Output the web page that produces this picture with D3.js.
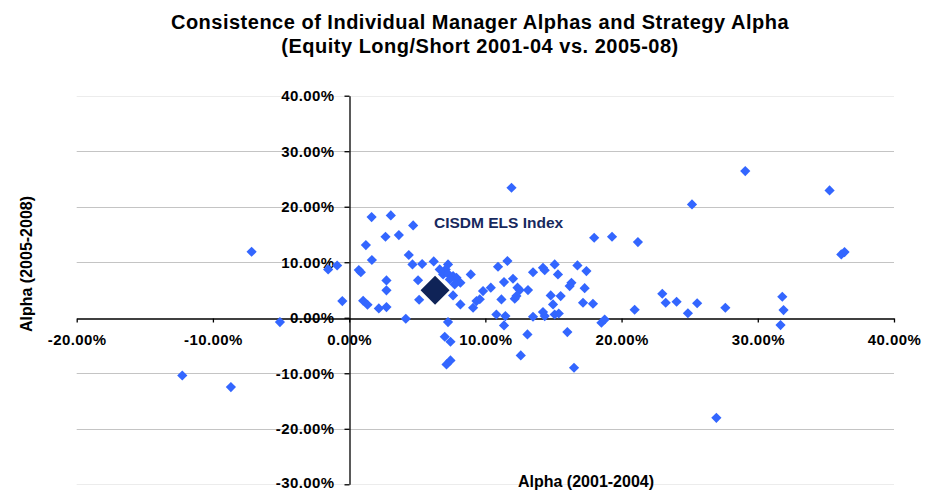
<!DOCTYPE html>
<html>
<head>
<meta charset="utf-8">
<script src="https://cdn.jsdelivr.net/npm/d3@7"></script>
<style>
  body { margin: 0; background: #fff; }
  text { font-family: "Liberation Sans", Arial, sans-serif; font-weight: bold; }
</style>
</head>
<body>
<div id="chart1"></div>
<script>
// manager alphas, 2001-04 (x) vs 2005-08 (y), in %
const alpha0104 = [
  -12.25, -8.68, -7.16, -5.08, -1.54, -0.88, -0.50, 0.71, 0.86, 1.65,
  3.06, 4.70, 1.23, 2.67, 3.65, 1.67, 4.38, 4.65, 5.36, 6.21,
  1.03, 1.35, 2.18, 2.74, 2.74, 2.74, 5.06, 5.14, 4.16, 7.26,
  7.02, 7.44, 7.15, 7.44, 7.26, 7.09, 6.65, 6.90, 7.26, 7.63,
  7.88, 7.39, 8.17, 7.75, 7.63, 8.17, 8.93, 9.10, 9.35, 9.59,
  9.83, 10.40, 11.92, 11.62, 10.93, 11.37, 12.03, 12.36, 12.52, 13.13,
  13.50, 14.23, 14.36, 15.09, 15.33, 16.76, 16.32, 16.19, 11.18, 12.16,
  12.28, 14.80, 15.53, 14.97, 10.81, 11.47, 11.37, 13.50, 14.23, 14.36,
  15.09, 15.39, 13.09, 16.02, 12.60, 16.51, 17.17, 17.42, 17.29, 17.90,
  17.99, 19.30, 21.20, 18.52, 18.76, 20.96, 22.99, 23.24, 24.04, 24.87,
  25.55, 27.62, 31.80, 31.89, 31.67, 29.08, 35.27, 25.17, 36.13, 36.37,
  26.96
];
const alpha0508 = [
  -10.40, -12.49, 11.89, -0.77, 8.70, 9.41, 3.01, 8.59, 8.20, 18.14,
  18.43, 16.63, 13.10, 14.59, 14.90, 10.40, 11.30, 9.60, 9.68, 10.14,
  3.06, 2.34, 1.68, 1.93, 6.72, 4.95, 6.76, 3.24, -0.18, -0.77,
  -3.42, -4.32, -8.41, -7.69, 9.60, 8.70, 8.70, 7.80, 7.93, 7.51,
  7.21, 6.90, 6.31, 6.00, 4.02, 2.40, 7.80, 1.80, 3.01, 3.33,
  4.81, 5.41, 23.42, 10.22, 9.19, 6.43, 7.03, 5.41, 4.99, 4.99,
  8.20, 9.01, 8.56, 9.60, 7.80, 9.42, 6.31, 5.71, 3.30, 3.42,
  3.91, 4.02, 3.91, 2.40, 0.59, 0.31, -1.39, 0.18, 1.03, 0.31,
  0.59, 0.77, -3.01, -2.58, -6.79, -9.01, 2.70, 8.41, 5.32, 2.52,
  14.41, 14.59, 13.64, -0.90, -0.31, 1.44, 4.32, 2.70, 2.88, 0.81,
  2.61, 1.80, 3.78, 1.39, -1.32, 26.43, 22.94, 20.41, 11.41, 11.84,
  -18.02
];

// strategy index point
const indexName = "CISDM ELS Index";
const indexAlpha = [6.31, 4.95];

const xTicks = [-20, -10, 0, 10, 20, 30, 40];
const yTicks = [-30, -20, -10, 0, 10, 20, 30, 40];

const titleLines = [
  "Consistence of Individual Manager Alphas and Strategy Alpha",
  "(Equity Long/Short 2001-04 vs. 2005-08)"
];
const xTitle = "Alpha (2001-2004)";
const yTitle = "Alpha (2005-2008)";

//GLOBALS
const W = 935, H = 491;
const plot = { left: 76.7, right: 894, top: 95.7, bottom: 484.3 };
const pointColour = "#3366ff";
const indexColour = "#0f2357";

const svg = d3.select("#chart1").append("svg")
  .attr("width", W)
  .attr("height", H);

const x = d3.scaleLinear().domain([-20, 40]).range([plot.left, plot.right]);
const y = d3.scaleLinear().domain([-30, 40]).range([plot.bottom, plot.top]);
const fmt = d => d.toFixed(2) + "%";

// title
svg.append("g")
  .selectAll("text")
  .data(titleLines)
  .join("text")
  .attr("x", 480)
  .attr("y", (d, i) => 29 + i * 24)
  .attr("text-anchor", "middle")
  .attr("font-size", "20px")
  .attr("letter-spacing", "0.5px")
  .text(d => d);

// horizontal gridlines
svg.append("g")
  .selectAll("line")
  .data(yTicks.filter(d => d !== 0))
  .join("line")
  .attr("x1", plot.left)
  .attr("x2", plot.right)
  .attr("y1", d => Math.round(y(d)) + 0.5)
  .attr("y2", d => Math.round(y(d)) + 0.5)
  .attr("stroke", d => (d === 40 || d === -30) ? "#ececec" : "#c4c4c4")
  .attr("stroke-width", 1.2);

// y axis at x = 0
const yAxis = svg.append("g")
  .attr("transform", "translate(" + (Math.round(x(0)) + 0.5) + ",0)")
  .call(d3.axisLeft(y).tickValues(yTicks).tickSize(5).tickSizeOuter(0).tickPadding(10).tickFormat(fmt));

// x axis at y = 0
const xAxis = svg.append("g")
  .attr("transform", "translate(0," + (Math.round(y(0)) + 0.5) + ")")
  .call(d3.axisBottom(x).tickValues(xTicks).tickSize(4).tickSizeOuter(0).tickPadding(18).tickFormat(fmt));

[xAxis, yAxis].forEach(a => {
  a.select(".domain").attr("stroke", "#000").attr("stroke-width", 1.3);
  a.selectAll(".tick line").attr("stroke", "#000").attr("stroke-width", 1.3);
  a.selectAll(".tick text")
    .attr("fill", "#000")
    .attr("font-size", "15px")
    .attr("letter-spacing", "0.4px")
    .attr("font-family", "Liberation Sans, Arial, sans-serif");
});
xAxis.selectAll(".tick text").attr("dy", "0.3em");
// keep the lowest label inside the frame
yAxis.selectAll(".tick text").filter(d => d === -30).attr("dy", "0.2em");

// axis titles
svg.append("text")
  .attr("x", 586)
  .attr("y", 487)
  .attr("text-anchor", "middle")
  .attr("font-size", "16px")
  .text(xTitle);

svg.append("text")
  .attr("transform", "translate(32,264) rotate(-90)")
  .attr("text-anchor", "middle")
  .attr("font-size", "16px")
  .text(yTitle);

// manager points
const diamond = d3.symbol().type(d3.symbolSquare);
const managers = alpha0104.map((d, i) => [d, alpha0508[i]]);

svg.append("g")
  .selectAll("path")
  .data(managers)
  .join("path")
  .attr("d", diamond.size(52)())
  .attr("transform", d => "translate(" + x(d[0]) + "," + y(d[1]) + ") rotate(45)")
  .attr("fill", pointColour);

// strategy index
svg.append("path")
  .attr("d", diamond.size(420)())
  .attr("transform", "translate(" + x(indexAlpha[0]) + "," + y(indexAlpha[1]) + ") rotate(45)")
  .attr("fill", indexColour);

svg.append("text")
  .attr("x", 434)
  .attr("y", 228)
  .attr("font-size", "15.5px")
  .attr("fill", "#17295e")
  .text(indexName);
</script>
</body>
</html>
